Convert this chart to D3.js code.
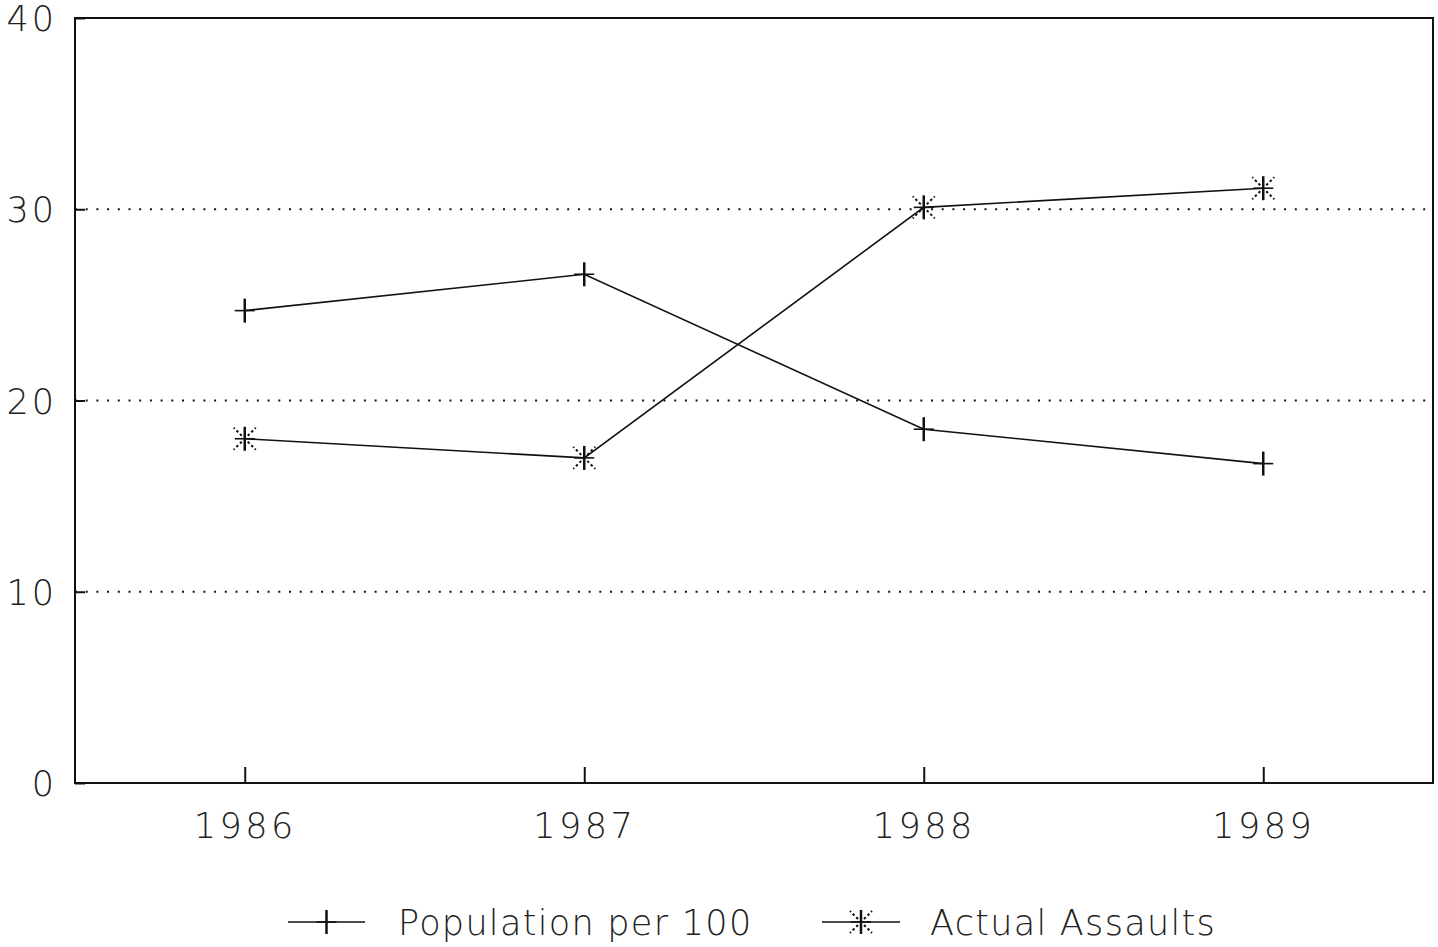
<!DOCTYPE html>
<html><head><meta charset="utf-8">
<script src="https://cdn.jsdelivr.net/npm/d3@7/dist/d3.min.js"></script>
<style>html,body{margin:0;padding:0;background:#fff;}svg{display:block;}
text{font-family:"DejaVu Sans",sans-serif;fill:#222;}</style>
</head><body><svg id="c" width="1438" height="947"></svg>
<script>
const years = ["1986","1987","1988","1989"];
const population = [24.7, 26.6, 18.5, 16.7];
const assaults = [18.0, 17.0, 30.1, 31.1];
const yTicks = [0, 10, 20, 30, 40];
const seriesNames = ["Population per 100", "Actual Assaults"];

const svg = d3.select("#c");
const L = 75, R = 1433, T = 18, B = 783;
const x = d3.scalePoint().domain(years).range([L, R]).padding(0.5);
const y = d3.scaleLinear().domain([0, 40]).range([B, T]);

// gridlines
svg.append("g").selectAll("line").data(yTicks.filter(d => d > 0 && d < 40)).join("line")
  .attr("x1", L).attr("x2", R).attr("y1", d => y(d)).attr("y2", d => y(d))
  .attr("stroke", "#111").attr("stroke-width", 2).attr("stroke-dasharray", "2,8.7");

// frame
svg.append("rect").attr("x", L).attr("y", T).attr("width", R - L).attr("height", B - T)
  .attr("fill", "none").attr("stroke", "#111").attr("stroke-width", 2);

// y axis
const ya = svg.append("g").attr("transform", `translate(${L},0)`)
  .call(d3.axisLeft(y).tickValues(yTicks).tickSize(-10).tickPadding(18).tickFormat(d3.format("d")));
ya.select(".domain").remove();
ya.selectAll("line").attr("stroke", "#111").attr("stroke-width", 2);
ya.selectAll("text").style("font-size", "35px").style("font-family", "DejaVu Sans, sans-serif")
  .style("letter-spacing", "3px")
  .attr("fill", "#222").attr("dy", "0.36em").style("font-weight", "200");

// x axis
const xa = svg.append("g").attr("transform", `translate(0,${B})`)
  .call(d3.axisBottom(x).tickSize(-16).tickPadding(30));
xa.select(".domain").remove();
xa.selectAll("line").attr("stroke", "#111").attr("stroke-width", 2);
xa.selectAll("text").style("font-size", "35px").style("font-family", "DejaVu Sans, sans-serif")
  .style("letter-spacing", "3.5px").attr("dx", "0px")
  .attr("fill", "#222").style("font-weight", "200");

const line = d3.line().x((d, i) => x(years[i])).y(d => y(d));
[population, assaults].forEach(s => {
  svg.append("path").datum(s).attr("d", line).attr("fill", "none")
    .attr("stroke", "#111").attr("stroke-width", 1.6);
});

function plus(g, cx, cy) {
  g.append("line").attr("x1", cx).attr("x2", cx).attr("y1", cy - 12).attr("y2", cy + 12)
    .attr("stroke", "#111").attr("stroke-width", 2.5);
  g.append("line").attr("x1", cx - 10).attr("x2", cx + 10).attr("y1", cy).attr("y2", cy)
    .attr("stroke", "#111").attr("stroke-width", 1.6);
}
function star(g, cx, cy) {
  g.append("line").attr("x1", cx).attr("x2", cx).attr("y1", cy - 12).attr("y2", cy + 12)
    .attr("stroke", "#111").attr("stroke-width", 2.5);
  g.append("line").attr("x1", cx - 10).attr("x2", cx + 10).attr("y1", cy).attr("y2", cy)
    .attr("stroke", "#111").attr("stroke-width", 1.6);
  [[-1,-1],[1,1],[-1,1],[1,-1]].forEach(([a,b]) => {
    g.append("line").attr("x1", cx + a * 3).attr("y1", cy + b * 3).attr("x2", cx + a * 11).attr("y2", cy + b * 11)
      .attr("stroke", "#111").attr("stroke-width", 2).attr("stroke-dasharray", "2.5,2.5");
  });
}
const mk = svg.append("g");
population.forEach((v, i) => plus(mk, x(years[i]), y(v)));
assaults.forEach((v, i) => star(mk, x(years[i]), y(v)));

// legend
const lg = svg.append("g");
const ly = 922;
const items = [{x0: 288, x1: 365, name: seriesNames[0], f: plus, tx: 398},
               {x0: 822, x1: 900, name: seriesNames[1], f: star, tx: 930}];
items.forEach(it => {
  lg.append("line").attr("x1", it.x0).attr("x2", it.x1).attr("y1", ly).attr("y2", ly)
    .attr("stroke", "#111").attr("stroke-width", 1.6);
  it.f(lg, (it.x0 + it.x1) / 2, ly);
  lg.append("text").attr("x", it.tx).attr("y", ly).attr("dy", "0.36em")
    .style("font-size", "35px").style("font-weight", "200").style("letter-spacing", "1.3px").text(it.name);
});
</script></body></html>
